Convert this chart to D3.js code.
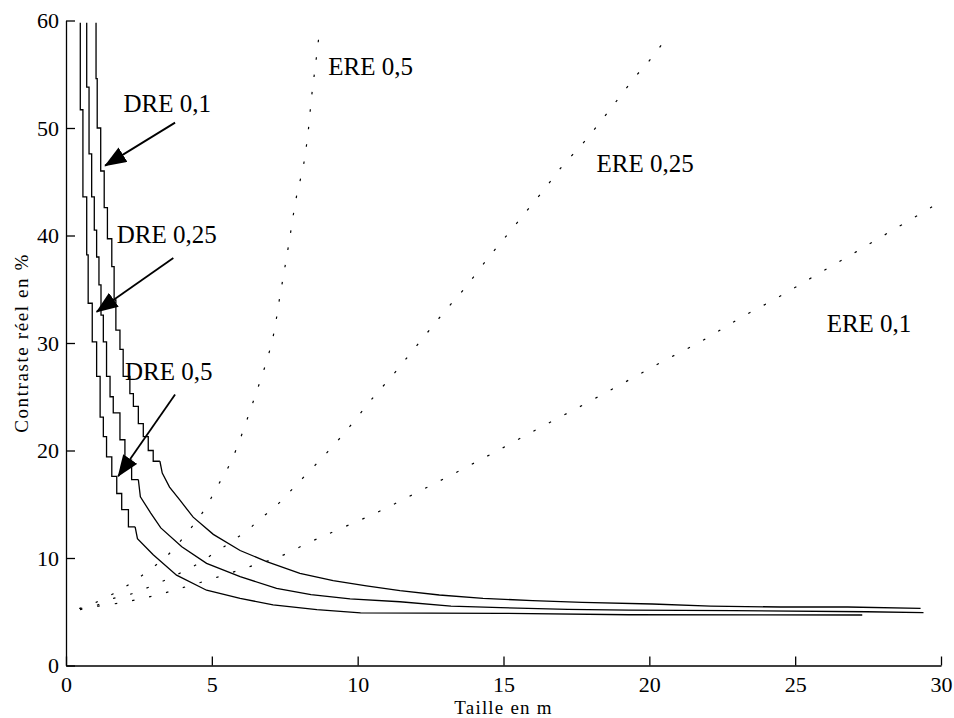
<!DOCTYPE html>
<html>
<head>
<meta charset="utf-8">
<script src="https://cdn.jsdelivr.net/npm/d3@7"></script>
<style>
  body { margin: 0; background: #fff; }
  svg { display: block; font-family: "Liberation Serif", "Times New Roman", serif; }
  .axis path, .axis line { stroke: #000; stroke-width: 1.3; }
  .axis text { fill: #000; }
  .dre { fill: none; stroke: #000; stroke-width: 1.3; }
  .ere { fill: none; stroke: #000; stroke-width: 1.2; stroke-dasharray: 2.5,15; }
  .label { font-size: 25px; fill: #000; }
</style>
</head>
<body>
<div id="chart"></div>
<script>
// tick values
const xTicks = [0, 5, 10, 15, 20, 25, 30];
const yTicks = [0, 10, 20, 30, 40, 50, 60];

// DRE curves: stepped upper part [x, y at top of each vertical step], then the smoother tail
const dre01Steps = [[1.03,59.8],[1.07,54.6],[1.19,50.0],[1.31,46.0],[1.42,42.6],[1.57,39.7],[1.65,37.1],[1.71,34.0],
  [1.85,31.2],[1.96,29.4],[2.19,26.9],[2.31,25.3],[2.48,24.1],[2.65,22.5],[2.82,21.3],[2.99,20.0],[3.22,19.0]];
const dre01Tail = [[3.22,19.0],[3.3,17.9],[3.55,16.6],[3.9,15.4],[4.36,13.8],[5.05,12.2],[5.97,10.7],[6.88,9.66],
  [8.02,8.58],[9.16,7.89],[10.3,7.4],[11.45,6.96],[12.8,6.56],[14.3,6.25],[16.0,6.03],[17.7,5.88],[20.1,5.72],
  [22.1,5.53],[24.5,5.44],[26.8,5.44],[29.3,5.32]];

const dre025Steps = [[0.71,59.8],[0.79,53.8],[0.88,47.6],[0.97,43.6],[1.05,40.5],[1.13,38.0],[1.20,35.4],[1.28,32.6],
  [1.39,30.1],[1.51,26.9],[1.62,25.0],[1.85,23.5],[2.02,21.0],[2.25,19.1],[2.48,17.3]];
const dre025Tail = [[2.48,17.3],[2.55,15.7],[2.9,14.2],[3.25,12.8],[3.97,11.05],[4.82,9.5],[5.97,8.26],[7.22,7.18],
  [8.4,6.6],[9.74,6.19],[11.45,5.93],[13.2,5.53],[14.9,5.38],[17.2,5.23],[19.3,5.16],[22.9,5.1],[27.45,5.0],[29.4,4.91]];

const dre05Steps = [[0.49,59.8],[0.58,51.7],[0.71,43.6],[0.76,38.2],[0.90,33.7],[1.05,30.1],[1.17,26.9],[1.28,23.1],
  [1.39,21.3],[1.57,19.4],[1.74,17.6],[1.91,16.0],[2.14,14.5],[2.37,12.9]];
const dre05Tail = [[2.37,12.9],[2.45,11.8],[2.99,10.3],[3.79,8.4],[4.82,7.0],[5.97,6.25],[7.1,5.63],[8.6,5.2],
  [10.1,4.9],[14.9,4.85],[19.3,4.72],[27.3,4.7]];

// ERE curves (dotted)
const ere05 = [[0.45,5.3],[1.05,5.9],[1.96,7.2],[2.77,8.7],[3.5,10.3],[4.14,12.3],[4.7,14.3],[5.2,16.7],[5.68,19.1],
  [6.4,24.4],[7.05,30],[7.35,34.6],[7.62,38.9],[7.9,43.6],[8.14,46.5],[8.3,49.6],[8.42,52.9],[8.56,56],[8.7,59.2]];
const ere025 = [[0.48,5.2],[1.05,5.6],[1.57,6.2],[2.17,6.6],[2.67,7.1],[3.2,7.7],[3.68,8.3],[4.14,8.9],[4.6,9.6],
  [5.05,10.4],[5.5,11.2],[5.87,11.9],[6.25,12.6],[6.6,13.55],[6.97,14.3],[7.3,15.1],[7.65,16.1],[8.0,17.1],[8.67,19.0],
  [9.28,20.8],[9.9,22.8],[10.54,24.96],[11.17,26.9],[11.8,29.0],[12.4,31.0],[13.0,33.0],[13.64,35.0],[14.5,38.0],
  [15.2,40.3],[15.8,42.3],[16.4,44.3],[17.0,46.4],[17.7,48.5],[18.3,50.5],[18.9,52.6],[19.5,54.7],[20.1,56.6],[20.7,58.8]];
const ere01 = [[0.48,5.3],[1.8,5.8],[2.96,6.45],[4.08,7.3],[5.17,8.2],[6.3,9.2],[7.3,10.1],[8.3,11.4],[9.3,12.6],
  [10.75,14.35],[12.18,16.3],[13.55,18.2],[14.94,20.2],[16.3,22.2],[17.7,24.2],[19.06,26.2],[20.4,28.2],[21.8,30.2],
  [23.1,32.3],[24.45,34.3],[25.77,36.4],[27.1,38.5],[28.47,40.7],[29.84,42.9]];

// annotation labels and arrows, in data units
const labels = [
  {text: "DRE 0,1", x: 1.97, y: 51.5},
  {text: "DRE 0,25", x: 1.74, y: 39.3},
  {text: "DRE 0,5", x: 2.02, y: 26.6},
  {text: "ERE 0,5", x: 8.99, y: 54.9},
  {text: "ERE 0,25", x: 18.19, y: 45.9},
  {text: "ERE 0,1", x: 26.08, y: 31.05}
];
const arrows = [
  {from: [3.74, 50.5], to: [1.34, 46.5]},
  {from: [3.68, 37.9], to: [1.05, 32.9]},
  {from: [3.74, 25.2], to: [1.79, 17.6]}
];

const width = 954, height = 718;
const margin = {top: 20.5, right: 13, bottom: 52.5, left: 66};

const svg = d3.select("#chart").append("svg")
    .attr("width", width)
    .attr("height", height);

svg.append("rect").attr("width", width).attr("height", height).attr("fill", "#fff");

const x = d3.scaleLinear().domain([0, 30]).range([margin.left, width - margin.right]);
const y = d3.scaleLinear().domain([0, 60]).range([height - margin.bottom, margin.top]);

// axes, ticks pointing inward
svg.append("g")
    .attr("class", "axis")
    .attr("transform", `translate(0,${y(0)})`)
    .call(d3.axisBottom(x).tickValues(xTicks).tickSizeInner(-9).tickSizeOuter(0).tickPadding(10.5))
    .attr("font-family", "Liberation Serif")
    .attr("font-size", 22);

svg.append("g")
    .attr("class", "axis")
    .attr("transform", `translate(${x(0)},0)`)
    .call(d3.axisLeft(y).tickValues(yTicks).tickSizeInner(-9).tickSizeOuter(0).tickPadding(7))
    .attr("font-family", "Liberation Serif")
    .attr("font-size", 22);

// axis titles
svg.append("text")
    .attr("x", (x(0) + x(30)) / 2)
    .attr("y", 714)
    .attr("text-anchor", "middle")
    .style("font-size", "19px")
    .style("letter-spacing", "1.2px")
    .text("Taille en m");

svg.append("text")
    .attr("transform", `translate(28,${(y(0) + y(60)) / 2}) rotate(-90)`)
    .attr("text-anchor", "middle")
    .style("font-size", "19px")
    .style("letter-spacing", "1.6px")
    .text("Contraste réel en %");

// curves
let stepLine = d3.line().x(d => x(d[0])).y(d => y(d[1])).curve(d3.curveStepBefore);
let tailLine = d3.line().x(d => x(d[0])).y(d => y(d[1])).curve(d3.curveLinear);
let smoothLine = d3.line().x(d => x(d[0])).y(d => y(d[1])).curve(d3.curveCatmullRom);

[dre01Steps, dre025Steps, dre05Steps].forEach(s => {
    svg.append("path").datum(s).attr("class", "dre").attr("d", stepLine);
});
[dre01Tail, dre025Tail, dre05Tail].forEach(s => {
    svg.append("path").datum(s).attr("class", "dre").attr("d", tailLine);
});
[ere05, ere025, ere01].forEach(s => {
    svg.append("path").datum(s).attr("class", "ere").attr("d", smoothLine);
});

// arrow heads
svg.append("defs").append("marker")
    .attr("id", "head")
    .attr("viewBox", "0 0 22 17")
    .attr("refX", 21)
    .attr("refY", 8.5)
    .attr("markerUnits", "userSpaceOnUse")
    .attr("markerWidth", 22)
    .attr("markerHeight", 17)
    .attr("orient", "auto")
  .append("path")
    .attr("d", "M0,0 L22,8.5 L0,17 Z")
    .attr("fill", "#000");

svg.selectAll(".arrow").data(arrows).enter().append("line")
    .attr("class", "arrow")
    .attr("x1", d => x(d.from[0]))
    .attr("y1", d => y(d.from[1]))
    .attr("x2", d => x(d.to[0]))
    .attr("y2", d => y(d.to[1]))
    .attr("stroke", "#000")
    .attr("stroke-width", 1.8)
    .attr("marker-end", "url(#head)");

svg.selectAll(".label").data(labels).enter().append("text")
    .attr("class", "label")
    .attr("x", d => x(d.x))
    .attr("y", d => y(d.y))
    .text(d => d.text);
</script>
</body>
</html>
